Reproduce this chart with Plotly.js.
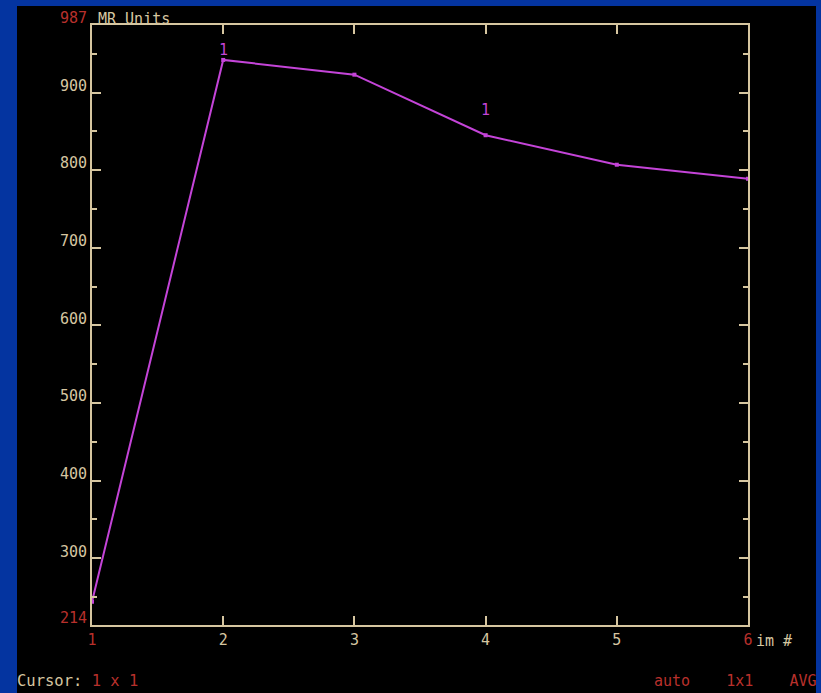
<!DOCTYPE html>
<html>
<head>
<meta charset="utf-8">
<script src="https://cdn.plot.ly/plotly-3.0.1.min.js"></script>
<style>
  html, body { margin: 0; padding: 0; width: 821px; height: 693px; background: #0434a0; overflow: hidden; }
  #chart { position: absolute; left: 17px; top: 6px; width: 799px; height: 687px; }
</style>
</head>
<body>
<div id="chart"></div>
<script>
// ---- data ----
const imageNumbers = [1, 2, 3, 4, 5, 6];
const mrValues = [244, 942, 923, 845, 807, 789];
const yTickValues = [214, 300, 400, 500, 600, 700, 800, 900, 987];
const yTickLabels = ['214', '300', '400', '500', '600', '700', '800', '900', '987'];
const xTickValues = [1, 2, 3, 4, 5, 6];
const xTickLabels = ['1', '2', '3', '4', '5', '6'];
const pointLabelX = [2, 4];
const pointLabelText = ['1', '1'];

const TAN = '#d6c6a0';
const RED = '#b8302c';
const MAG = '#c444d8';
const FONT = 'DejaVu Sans Mono, monospace';

const redIdxY = [0, yTickValues.length - 1];
const yText = yTickLabels.map((t, i) => redIdxY.includes(i) ? '<span style="color:' + RED + '">' + t + '</span>' : t);
const redIdxX = [0, xTickValues.length - 1];
const xText = xTickLabels.map((t, i) => redIdxX.includes(i) ? '<span style="color:' + RED + '">' + t + '</span>' : t);

const trace = {
  x: imageNumbers,
  y: mrValues,
  type: 'scatter',
  mode: 'lines+markers',
  line: { color: MAG, width: 2 },
  marker: { color: MAG, size: 4, symbol: 'square' },
  hoverinfo: 'skip'
};

const shifts = [10, 25];
const annotations = pointLabelX.map((xv, i) => ({
  x: xv, y: mrValues[imageNumbers.indexOf(xv)], xref: 'x', yref: 'y',
  text: pointLabelText[i], showarrow: false, yshift: shifts[i],
  font: { family: FONT, size: 15, color: MAG }
}));

annotations.push(
  { xref: 'paper', yref: 'paper', x: 0, y: 1, xanchor: 'left', yanchor: 'bottom', yshift: -5, xshift: 4,
    text: 'MR Units', showarrow: false, font: { family: FONT, size: 15, color: TAN } },
  { xref: 'paper', yref: 'paper', x: 1, y: 0, xanchor: 'left', yanchor: 'middle', xshift: 6, yshift: -16,
    text: 'im #', showarrow: false, font: { family: FONT, size: 15, color: TAN } },
  { xref: 'paper', yref: 'paper', x: 0, y: 0, xanchor: 'left', yanchor: 'middle', xshift: -77, yshift: -56,
    text: 'Cursor: <span style="color:' + RED + '">1 x 1</span>', showarrow: false,
    font: { family: FONT, size: 15.5, color: TAN } },
  { xref: 'paper', yref: 'paper', x: 1, y: 0, xanchor: 'right', yanchor: 'middle', xshift: 71, yshift: -56,
    text: 'auto    1x1    AVG', showarrow: false,
    font: { family: FONT, size: 15, color: RED } }
);

const layout = {
  width: 799, height: 687,
  paper_bgcolor: '#000000',
  plot_bgcolor: '#000000',
  margin: { l: 75, r: 68, t: 19, b: 68 },
  showlegend: false,
  font: { family: FONT, size: 15, color: TAN },
  xaxis: {
    range: [1, 6],
    tickmode: 'array', tickvals: xTickValues, ticktext: xText,
    ticks: 'inside', ticklen: 9, tickwidth: 2, tickcolor: TAN,
    showline: true, linecolor: TAN, linewidth: 2, mirror: 'ticks',
    showgrid: false, zeroline: false,
    tickfont: { family: FONT, size: 15, color: TAN }
  },
  yaxis: {
    range: [214, 987],
    tickmode: 'array', tickvals: yTickValues, ticktext: yText,
    ticks: 'inside', ticklen: 9, tickwidth: 2, tickcolor: TAN,
    minor: { tickmode: 'linear', tick0: 0, dtick: 50, ticks: 'inside', ticklen: 5, tickwidth: 2, tickcolor: TAN, showgrid: false },
    showline: true, linecolor: TAN, linewidth: 2, mirror: 'ticks',
    showgrid: false, zeroline: false,
    ticklabelshift: -7, ticklabelstandoff: 0,
    tickfont: { family: FONT, size: 15, color: TAN }
  },
  annotations: annotations
};

Plotly.newPlot('chart', [trace], layout, { staticPlot: true, displayModeBar: false });
</script>
</body>
</html>
